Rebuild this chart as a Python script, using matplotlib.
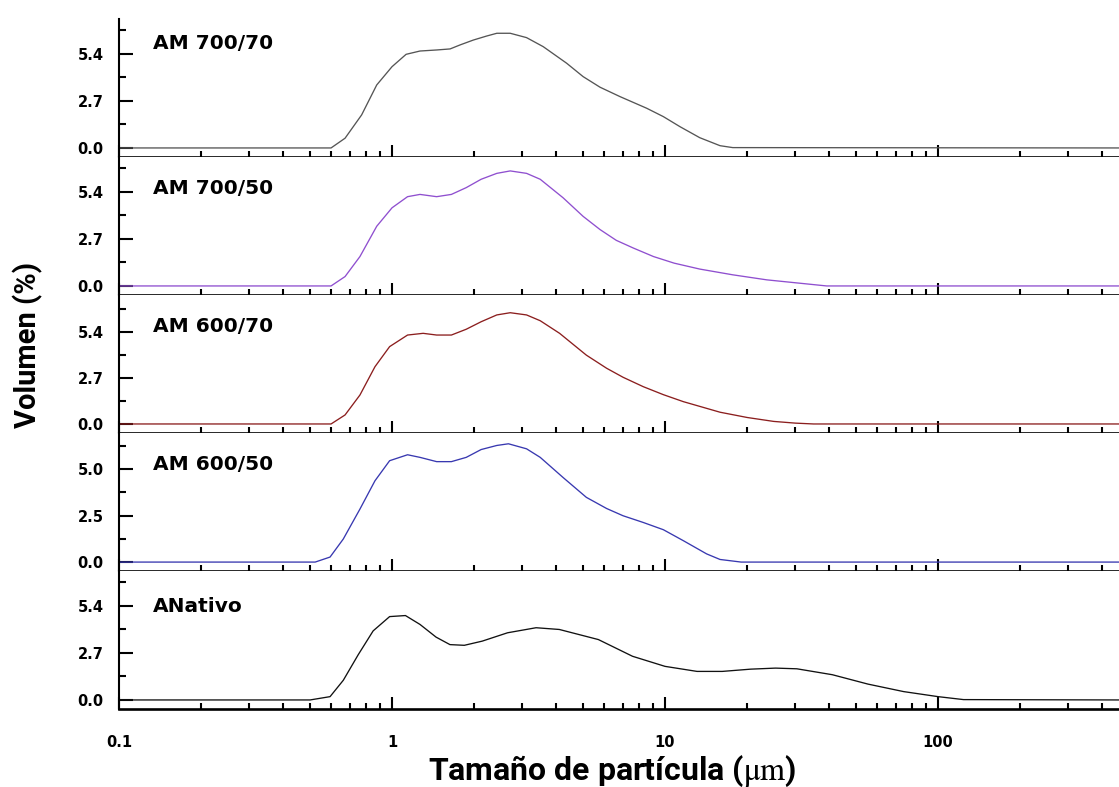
import numpy as np
import matplotlib
matplotlib.use('Agg')
import matplotlib.pyplot as plt
from matplotlib.ticker import (FixedLocator, LogLocator, FormatStrFormatter,
                               NullFormatter, FuncFormatter)

plt.rcParams['font.family'] = ['DejaVu Sans']
plt.rcParams['mathtext.fontset'] = 'stix'

# distribuciones de tamaño de partícula (volumen %)
x_700_70 = [0.1, 0.598, 0.673, 0.774, 0.879, 1.0, 1.126, 1.266, 1.457, 1.632, 1.775, 1.985,
            2.22, 2.42, 2.71, 3.11, 3.58, 4.36, 5.01, 5.78, 6.84, 8.57, 9.86, 11.35,
            13.4, 15.9, 17.7, 460]
v_700_70 = [0, 0, 0.56, 1.90, 3.62, 4.67, 5.38, 5.57, 5.63, 5.69, 5.92, 6.20,
            6.43, 6.59, 6.59, 6.34, 5.82, 4.87, 4.10, 3.49, 2.95, 2.28, 1.80, 1.22,
            0.59, 0.13, 0.02, 0]

x_700_50 = [0.1, 0.598, 0.673, 0.763, 0.879, 1.0, 1.14, 1.266, 1.457, 1.65, 1.87, 2.12,
            2.42, 2.71, 3.11, 3.49, 4.23, 5.01, 5.78, 6.63, 7.65, 9.07, 10.8, 13.4,
            17.7, 23.6, 39.1, 460]
v_700_50 = [0, 0, 0.54, 1.69, 3.43, 4.49, 5.13, 5.26, 5.13, 5.26, 5.65, 6.13,
            6.47, 6.61, 6.47, 6.13, 5.07, 4.00, 3.24, 2.62, 2.18, 1.69, 1.31, 0.97,
            0.64, 0.35, 0, 0]

x_600_70 = [0.1, 0.598, 0.673, 0.763, 0.866, 0.98, 1.14, 1.30, 1.457, 1.65, 1.87, 2.12,
            2.42, 2.71, 3.11, 3.49, 4.11, 5.15, 6.11, 7.02, 8.32, 9.86, 11.67, 15.9,
            20.0, 25.0, 30.0, 35.0, 460]
v_600_70 = [0, 0, 0.53, 1.70, 3.36, 4.54, 5.22, 5.32, 5.22, 5.22, 5.56, 6.00,
            6.40, 6.53, 6.40, 6.06, 5.32, 4.04, 3.27, 2.74, 2.19, 1.72, 1.31, 0.69,
            0.38, 0.15, 0.05, 0, 0]

x_600_50 = [0.1, 0.523, 0.593, 0.663, 0.763, 0.866, 0.98, 1.14, 1.266, 1.457, 1.65, 1.87,
            2.12, 2.42, 2.67, 3.11, 3.49, 4.23, 5.15, 6.11, 7.02, 8.32, 9.86, 11.67,
            14.2, 15.9, 19.0, 460]
v_600_50 = [0, 0, 0.27, 1.24, 2.85, 4.37, 5.45, 5.77, 5.63, 5.40, 5.40, 5.63,
            6.05, 6.27, 6.36, 6.09, 5.63, 4.55, 3.48, 2.88, 2.49, 2.13, 1.74, 1.15,
            0.44, 0.14, 0, 0]

x_nativo = [0.1, 0.501, 0.593, 0.663, 0.752, 0.853, 0.98, 1.12, 1.266, 1.45, 1.63, 1.84,
            2.14, 2.65, 3.37, 4.1, 5.7, 7.6, 10.0, 13.1, 16.2, 20.6, 25.4, 30.4,
            41.0, 55.4, 74.8, 100, 124, 460]
v_nativo = [0, 0, 0.19, 1.13, 2.60, 3.97, 4.79, 4.85, 4.34, 3.61, 3.18, 3.14,
            3.38, 3.86, 4.15, 4.05, 3.47, 2.51, 1.93, 1.64, 1.64, 1.77, 1.83, 1.79,
            1.45, 0.91, 0.48, 0.19, 0.02, 0]

etiquetas = ['AM 700/70', 'AM 700/50', 'AM 600/70', 'AM 600/50', 'ANativo']
series_x = [x_700_70, x_700_50, x_600_70, x_600_50, x_nativo]
series_v = [v_700_70, v_700_50, v_600_70, v_600_50, v_nativo]
colores = ['#555555', '#8f4fcf', '#8b1e1e', '#3838b0', '#111111']
yticks_mayor = [[0, 2.7, 5.4], [0, 2.7, 5.4], [0, 2.7, 5.4], [0, 2.5, 5.0], [0, 2.7, 5.4]]
yticks_menor = [[1.35, 4.05, 6.75], [1.35, 4.05, 6.75], [1.35, 4.05, 6.75],
                [1.25, 3.75, 6.25], [1.35, 4.05, 6.75]]
ylims = [(-0.52, 7.41), (-0.52, 7.41), (-0.53, 7.57), (-0.48, 6.94), (-0.52, 7.41)]
y_etiqueta = [0.826, 0.775, 0.775, 0.775, 0.74]

W, H = 1119, 787
fig = plt.figure(figsize=(W / 100, H / 100), dpi=100)

izq, alto = 119, 138
for i in range(5):
    base = 157 + alto * i
    ax = fig.add_axes([izq / W, 1 - base / H, 1 - izq / W, alto / H])
    ax.plot(series_x[i], series_v[i], color=colores[i], lw=0.95)
    ax.set_xscale('log')
    ax.set_xlim(0.1, 460)
    ax.set_ylim(*ylims[i])

    for s in ['top', 'right']:
        ax.spines[s].set_visible(False)
    ax.spines['left'].set_linewidth(1.5)
    ax.spines['bottom'].set_linewidth(1.9)

    ax.yaxis.set_major_locator(FixedLocator(yticks_mayor[i]))
    ax.yaxis.set_minor_locator(FixedLocator(yticks_menor[i]))
    ax.yaxis.set_major_formatter(FormatStrFormatter('%.1f'))
    ax.xaxis.set_major_locator(LogLocator(base=10))
    ax.xaxis.set_minor_locator(LogLocator(base=10, subs=np.arange(2, 10)))
    ax.xaxis.set_minor_formatter(NullFormatter())
    ax.xaxis.set_major_formatter(FuncFormatter(lambda v, p: '%g' % v))

    ax.tick_params(axis='y', which='major', direction='in', length=10, width=1.5,
                   labelsize=10.5, pad=11)
    ax.tick_params(axis='y', which='minor', direction='in', length=5, width=1.5)
    ax.tick_params(axis='x', which='major', direction='in', length=9, width=1.5,
                   labelsize=10.5, pad=19)
    ax.tick_params(axis='x', which='minor', direction='in', length=4.5, width=1.5)
    for lab in ax.get_yticklabels() + ax.get_xticklabels():
        lab.set_fontweight('bold')
    if i < 4:
        ax.tick_params(axis='x', which='both', labelbottom=False)

    ax.text(0.034, y_etiqueta[i], etiquetas[i], transform=ax.transAxes,
            fontsize=14.5, fontweight='bold', va='center', ha='left')

fig.text(28 / W, 1 - 345 / H, 'Volumen (%)', rotation=90, fontsize=21,
         fontweight='bold', family=['Roboto', 'DejaVu Sans'], va='center', ha='center')
fig.text(612 / W, 1 - 771 / H, 'Tamaño de partícula ($\\mathrm{\\mu m}$)', fontsize=23,
         fontweight='bold', family=['Roboto', 'DejaVu Sans'], va='center', ha='center')

fig.savefig('out.png', dpi=100)
